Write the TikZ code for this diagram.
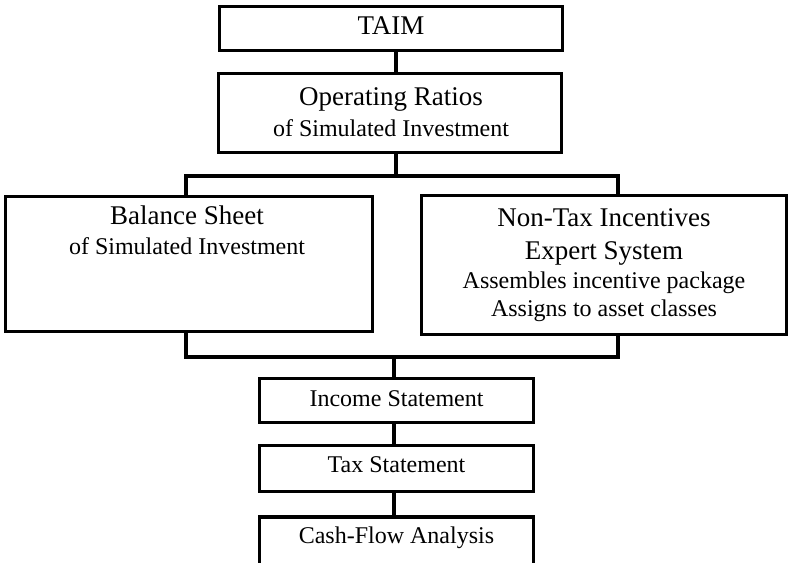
\documentclass[tikz,border=0pt]{standalone}
\usepackage{fontspec}
\setmainfont{Liberation Serif}
\begin{document}
\begin{tikzpicture}[x=1pt,y=1pt,
  box/.style={draw=black,line width=3.1pt,rectangle,inner sep=0pt},
  big/.style={anchor=base,inner sep=0pt,font=\fontsize{27}{31}\selectfont},
  small/.style={anchor=base,inner sep=0pt,font=\fontsize{24}{28}\selectfont},
  conn/.style={line width=3.1pt,line join=miter}]
\clip (0,0) rectangle (789,562);
\useasboundingbox (0,0) rectangle (789,562);
% boxes
\node[box,minimum width=343,minimum height=44] (taim) at (391,533.5) {};
\node[box,minimum width=343,minimum height=79] (ops) at (390,449) {};
\node[box,minimum width=367,minimum height=135] (bal) at (189,298) {};
\node[box,minimum width=365,minimum height=139] (nt) at (604,297) {};
\node[box,minimum width=274,minimum height=44] (inc) at (396.5,161.5) {};
\node[box,minimum width=274,minimum height=46] (tax) at (396.5,93.5) {};
\node[box,minimum width=274,minimum height=60] (cash) at (396.5,15) {};
% texts
\node[big] (taimT) at (391,527) {TAIM};
\node[big] (opsT1) at (391,456) {Operating Ratios};
\node[small] (opsT2) at (391,425) {of Simulated Investment};
\node[big] (balT1) at (187,337) {Balance Sheet};
\node[small] (balT2) at (187,307) {of Simulated Investment};
\node[big] (ntT1) at (604,335) {Non-Tax Incentives};
\node[big] (ntT2) at (604,302) {Expert System};
\node[small] (ntT3) at (604,273) {Assembles incentive package};
\node[small] (ntT4) at (604,245) {Assigns to asset classes};
\node[small] (incT) at (396.5,155) {Income Statement};
\node[small] (taxT) at (396.5,89) {Tax Statement};
\node[small] (cashT) at (396.5,19) {Cash-Flow Analysis};
% connector coordinates
\coordinate (jt) at (396,386);
\coordinate (jl) at (186,386);
\coordinate (jr) at (618,386);
\coordinate (bl) at (186,205);
\coordinate (br) at (618,205);
\coordinate (bm) at (394,205);
% connectors
\draw[conn] (taim.south -| jt) -- (ops.north -| jt);
\draw[conn] (ops.south -| jt) -- (jt);
\draw[conn] (bal.north -| jl) -- (jl) -- (jr) -- (nt.north -| jr);
\draw[conn] (bal.south -| bl) -- (bl) -- (br) -- (nt.south -| br);
\draw[conn] (bm) -- (inc.north -| bm);
\draw[conn] (inc.south -| bm) -- (tax.north -| bm);
\draw[conn] (tax.south -| bm) -- (cash.north -| bm);
\end{tikzpicture}
\end{document}
